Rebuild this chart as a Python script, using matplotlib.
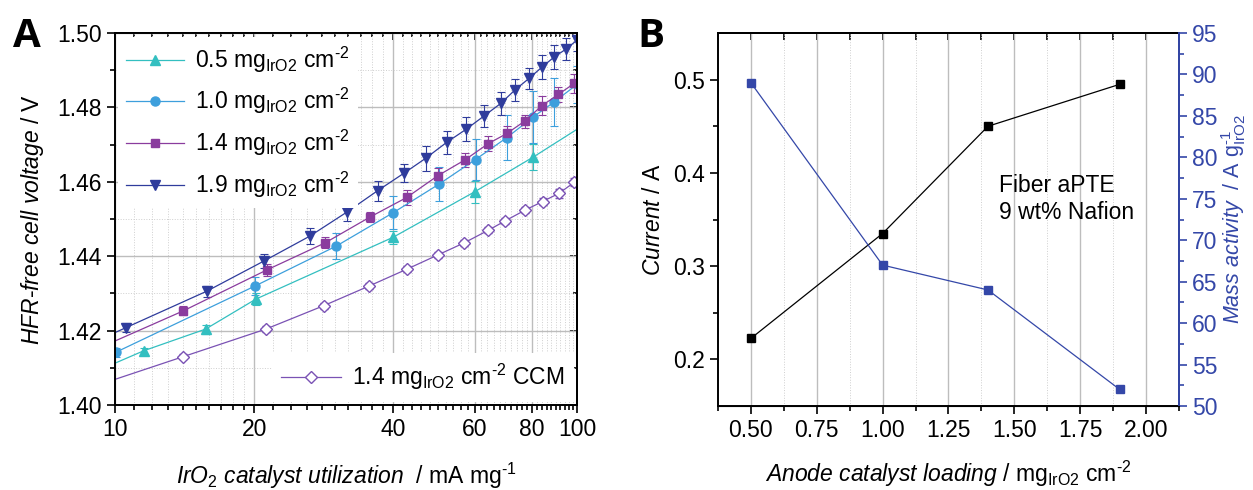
import numpy as np
import matplotlib
matplotlib.use('Agg')
import matplotlib.pyplot as plt
from matplotlib.ticker import FixedLocator, MultipleLocator, NullFormatter, FuncFormatter

plt.rcParams['font.family'] = ['Liberation Sans', 'DejaVu Sans']
plt.rcParams['mathtext.fontset'] = 'custom'
plt.rcParams['mathtext.rm'] = 'Liberation Sans'
plt.rcParams['mathtext.it'] = 'Liberation Sans:italic'
plt.rcParams['mathtext.bf'] = 'Liberation Sans:bold'

# -----------------------------------
# Panel A: HFR-free voltage vs IrO2 utilization (mA/mg)
x_05 = [8.7, 11.55, 15.7, 20.2, 40.0, 60.0, 80.5, 105.0]
v_05 = [1.4080, 1.4146, 1.4204, 1.4285, 1.4451, 1.4573, 1.4667, 1.4758]
e_05 = [0.0008, 0.0008, 0.0012, 0.0015, 0.0018, 0.003, 0.0035, 0.003]

x_10 = [10.05, 20.1, 30.1, 40.0, 50.3, 60.3, 70.5, 80.5, 89.3, 100.0]
v_10 = [1.4142, 1.4320, 1.4427, 1.4517, 1.4594, 1.4660, 1.4719, 1.4775, 1.4815, 1.4862]
e_10 = [0.0012, 0.0025, 0.0035, 0.0045, 0.0045, 0.0055, 0.006, 0.007, 0.0065, 0.005]

x_14 = [9.0, 14.05, 21.3, 28.5, 35.6, 42.8, 49.9, 57.2, 64.3, 70.5, 77.0, 84.0, 91.1, 98.7]
v_14 = [1.4147, 1.4253, 1.4363, 1.4436, 1.4505, 1.4558, 1.4616, 1.4659, 1.4703, 1.4730,
        1.4763, 1.4805, 1.4835, 1.4865]
e_14 = [0.001, 0.0012, 0.0015, 0.0015, 0.0013, 0.002, 0.002, 0.0018, 0.002, 0.002,
        0.0018, 0.0025, 0.002, 0.0025]

x_19 = [9.0, 10.56, 15.8, 21.0, 26.4, 31.7, 37.0, 42.3, 47.0, 52.2, 57.5, 62.9, 68.4,
        73.4, 78.7, 83.9, 89.3, 94.7, 100.0]
v_19 = [1.4169, 1.4208, 1.4306, 1.4387, 1.4454, 1.4518, 1.4576, 1.4624, 1.4663, 1.4706,
        1.4741, 1.4777, 1.4811, 1.4847, 1.4878, 1.4908, 1.4936, 1.4957, 1.4981]
e_19 = [0.001, 0.0012, 0.0015, 0.0018, 0.0022, 0.0024, 0.0027, 0.0025, 0.0033, 0.003,
        0.0032, 0.003, 0.003, 0.003, 0.0028, 0.0032, 0.0032, 0.003, 0.003]

x_ccm = [9.0, 14.05, 21.2, 28.3, 35.5, 42.8, 49.9, 57.0, 64.3, 69.9, 77.2, 84.2, 91.4, 98.7]
v_ccm = [1.4050, 1.4130, 1.4204, 1.4267, 1.4320, 1.4365, 1.4403, 1.4436, 1.4470, 1.4495,
         1.4524, 1.4547, 1.4569, 1.4599]
e_ccm = [0.0005, 0.0006, 0.0008, 0.0008, 0.0008, 0.0008, 0.0008, 0.0008, 0.0008, 0.0008,
         0.0008, 0.001, 0.0012, 0.001]

# Panel B: current and mass activity vs loading
loading = [0.5, 1.0, 1.4, 1.9]
current = [0.2225, 0.335, 0.45, 0.495]
mass_act = [89.0, 67.0, 64.0, 52.0]

X_MAJOR = [10, 20, 40, 60, 80, 100]
FS = 16.5
C_05, C_10, C_14, C_19, C_CCM = '#33bfc0', '#3d9fdc', '#8a3c9e', '#2f3c9c', '#7a52b4'
C_BLUE = '#3447a8'
HY = '\u2010'  # short hyphen for the exponents
# -----------------------------------

fig = plt.figure(figsize=(12.53, 4.90), dpi=100)
axA = fig.add_axes([0.0918, 0.1735, 0.3687, 0.759])
axB = fig.add_axes([0.573, 0.1714, 0.3679, 0.7612])

# // Panel A
series = [(x_05, v_05, e_05, '^', C_05, 7, '0.5'),
          (x_10, v_10, e_10, 'o', C_10, 6.5, '1.0'),
          (x_14, v_14, e_14, 's', C_14, 6, '1.4'),
          (x_19, v_19, e_19, 'v', C_19, 7.5, '1.9')]
handles = []
for xs, vs, es, mk, col, ms, lab in series:
    h = axA.errorbar(xs, vs, yerr=es, color=col, marker=mk, ms=ms, lw=0.9,
                     capsize=3, elinewidth=0.8, capthick=0.8)
    h.lines[0].set_label(lab + r' mg$_{\mathrm{IrO2}}$ cm$^{' + HY + '2}$')
    handles.append(h.lines[0])
h_ccm = axA.errorbar(x_ccm, v_ccm, yerr=e_ccm, color=C_CCM, marker='D', ms=6.5,
                     mfc='white', mec=C_CCM, mew=1.0, lw=0.9, capsize=3,
                     elinewidth=0.8, capthick=0.8)
h_ccm.lines[0].set_label(r'1.4 mg$_{\mathrm{IrO2}}$ cm$^{' + HY + '2}$ CCM')

axA.set_xscale('log')
axA.set_xlim(10, 100)
axA.set_ylim(1.40, 1.50)
minor_x = []
for lo, hi in zip(X_MAJOR[:-1], X_MAJOR[1:]):
    minor_x += list(np.linspace(lo, hi, 11)[1:-1])
axA.xaxis.set_major_locator(FixedLocator(X_MAJOR))
axA.xaxis.set_minor_locator(FixedLocator(minor_x))
axA.xaxis.set_major_formatter(FuncFormatter(lambda v, p: '{:d}'.format(int(round(v)))))
axA.xaxis.set_minor_formatter(NullFormatter())
axA.yaxis.set_major_locator(MultipleLocator(0.02))
axA.yaxis.set_minor_locator(MultipleLocator(0.01))
axA.yaxis.set_major_formatter(FuncFormatter(lambda v, p: '{:.2f}'.format(v)))
axA.set_axisbelow(True)
axA.grid(which='major', color='#bdbdbd', lw=1.0, ls='-')
axA.grid(which='minor', color='#cfcfcf', lw=0.7, ls=':')
axA.tick_params(which='both', direction='out', labelsize=FS, width=1.2)
axA.tick_params(which='major', length=6)
axA.tick_params(which='minor', length=3.5)

topA = axA.secondary_xaxis('top')
topA.xaxis.set_major_locator(FixedLocator(X_MAJOR))
topA.xaxis.set_minor_locator(FixedLocator(minor_x))
topA.tick_params(which='both', direction='in', labeltop=False, width=1.2)
topA.tick_params(which='major', length=5)
topA.tick_params(which='minor', length=3)
rightA = axA.secondary_yaxis('right')
rightA.yaxis.set_major_locator(MultipleLocator(0.02))
rightA.yaxis.set_minor_locator(MultipleLocator(0.01))
rightA.tick_params(which='both', direction='in', labelright=False, width=1.2)
rightA.tick_params(which='major', length=5)
rightA.tick_params(which='minor', length=3)
for sp in list(axA.spines.values()) + [topA.spines['top'], rightA.spines['right']]:
    sp.set_linewidth(1.4)

axA.set_ylabel(r'$\mathit{HFR}$-$\mathit{free\ cell\ voltage}$ / V', fontsize=FS, labelpad=8)
axA.set_xlabel(r'$\mathit{IrO_2\ catalyst\ utilization}$  / mA mg$^{' + HY + '1}$',
               fontsize=FS, labelpad=14)

leg1 = axA.legend(handles=handles, loc='upper left', fontsize=16.5, frameon=True,
                  framealpha=1, edgecolor='none', fancybox=False, borderaxespad=0.15,
                  borderpad=0.35, handlelength=2.5, labelspacing=0.5, handletextpad=0.5)
axA.add_artist(leg1)
axA.legend(handles=[h_ccm.lines[0]], loc='lower right', fontsize=16.5, frameon=True,
           framealpha=1, edgecolor='none', fancybox=False, borderaxespad=0.15,
           handlelength=2.6, handletextpad=0.5)

# // Panel B
axB.plot(loading, current, color='black', marker='s', ms=6, lw=0.9)
axB.set_xlim(0.375, 2.125)
axB.set_ylim(0.15, 0.55)
axB.xaxis.set_major_locator(MultipleLocator(0.25))
axB.xaxis.set_minor_locator(MultipleLocator(0.125))
axB.xaxis.set_major_formatter(FuncFormatter(lambda v, p: '{:.2f}'.format(v)))
axB.yaxis.set_major_locator(FixedLocator([0.2, 0.3, 0.4, 0.5]))
axB.yaxis.set_minor_locator(FixedLocator([0.25, 0.35, 0.45]))
axB.yaxis.set_major_formatter(FuncFormatter(lambda v, p: '{:.1f}'.format(v)))
axB.set_axisbelow(True)
axB.grid(which='major', axis='x', color='#bdbdbd', lw=1.0, ls='-')
axB.grid(which='minor', axis='x', color='#cfcfcf', lw=0.7, ls=':')
axB.tick_params(which='both', direction='out', labelsize=FS, width=1.2)
axB.tick_params(which='major', length=6)
axB.tick_params(which='minor', length=3.5)
topB = axB.secondary_xaxis('top')
topB.xaxis.set_major_locator(MultipleLocator(0.125))
topB.tick_params(which='both', direction='in', labeltop=False, width=1.2, length=5)
topB.spines['top'].set_linewidth(1.4)
for sp in axB.spines.values():
    sp.set_linewidth(1.4)

axB2 = axB.twinx()
axB2.plot(loading, mass_act, color=C_BLUE, marker='s', ms=6, lw=0.9)
axB2.set_ylim(50, 95)
axB2.yaxis.set_major_locator(MultipleLocator(5))
axB2.yaxis.set_minor_locator(MultipleLocator(2.5))
axB2.tick_params(which='both', direction='out', labelsize=FS, width=1.2,
                 colors=C_BLUE)
axB2.tick_params(which='major', length=6)
axB2.tick_params(which='minor', length=3.5)
axB2.spines['right'].set_color(C_BLUE)
axB2.spines['right'].set_linewidth(1.4)
axB2.spines['left'].set_visible(False)
axB2.spines['top'].set_visible(False)

axB.set_ylabel(r'$\mathit{Current}$ / A', fontsize=FS, labelpad=6)
axB.set_xlabel(r'$\mathit{Anode\ catalyst\ loading}$ / mg$_{\mathrm{IrO2}}$ cm$^{' + HY + '2}$',
               fontsize=FS, labelpad=12)
axB2.set_ylabel(r'$\mathit{Mass\ activity}$  / A g$_{\mathrm{IrO2}}^{' + HY + '1}$',
                fontsize=15.5, color=C_BLUE, labelpad=1)
axB.text(1.44, 0.372, 'Fiber aPTE\n9 wt% Nafion', fontsize=FS, ha='left', va='center',
         linespacing=1.25)

fig.text(0.010, 0.965, 'A', fontsize=29, fontweight='bold', family='Open Sans', va='top')
fig.text(0.509, 0.965, 'B', fontsize=29, fontweight='bold', family='Open Sans', va='top')

fig.savefig('out.png', dpi=100)
